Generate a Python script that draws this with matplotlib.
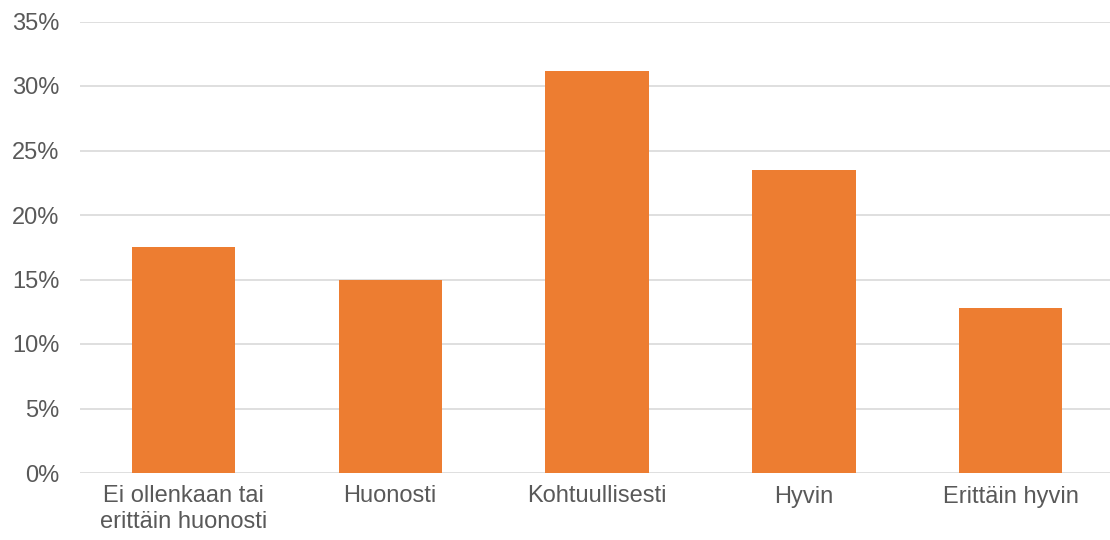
import matplotlib.pyplot as plt
from matplotlib.ticker import FuncFormatter

# Data
categories = ['Ei ollenkaan tai\nerittäin huonosti', 'Huonosti', 'Kohtuullisesti', 'Hyvin', 'Erittäin hyvin']
shares = [17.5, 14.95, 31.2, 23.5, 12.8]
y_ticks = [0, 5, 10, 15, 20, 25, 30, 35]

plt.rcParams['font.family'] = ['Liberation Sans', 'DejaVu Sans']

fig = plt.figure(figsize=(11.1, 5.4), dpi=100)
ax = fig.add_axes([80 / 1110, 1 - 473 / 540, 1034 / 1110, (473 - 21.5) / 540])

ax.bar(range(len(categories)), shares, width=0.5, color='#ED7D31', zorder=3)

ax.set_xlim(-0.5, len(categories) - 0.5)
ax.set_ylim(0, 35)
ax.set_yticks(y_ticks)
ax.yaxis.set_major_formatter(FuncFormatter(lambda v, p: f'{v:.0f}%'))
ax.set_xticks(range(len(categories)))
ax.set_xticklabels(categories)

ax.grid(axis='y', color='#D9D9D9', linewidth=1.2, zorder=0)
ax.set_axisbelow(True)
for s in ax.spines.values():
    s.set_visible(False)

ax.tick_params(axis='both', length=0, labelsize=17, labelcolor='#595959')
ax.tick_params(axis='x', pad=9)
ax.tick_params(axis='y', pad=15)

fig.savefig('out.png', dpi=100)
